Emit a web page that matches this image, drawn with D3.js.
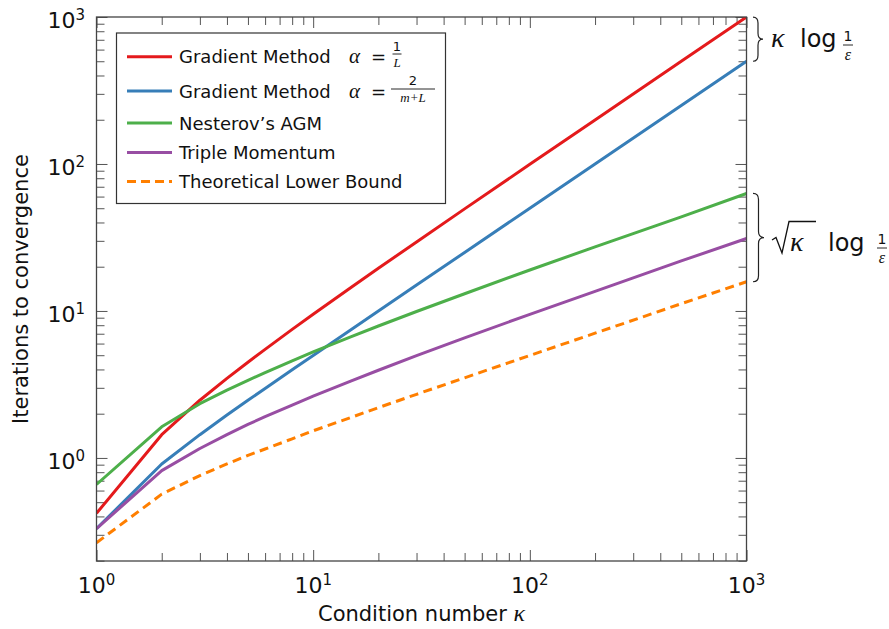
<!DOCTYPE html>
<html>
<head>
<meta charset="utf-8">
<script src="https://cdn.jsdelivr.net/npm/d3@7"></script>
<style>
  body { margin: 0; background: #fff; }
  svg { display: block; }
  text { font-family: "DejaVu Sans", sans-serif; fill: #111; }
  .math { font-family: "Liberation Serif", serif; font-style: italic; }
</style>
</head>
<body>
<div id="chart"></div>
<script>
// Data (condition number vs iterations)
const kappa = [1, 2, 3, 4, 5, 6, 8, 10, 15, 20, 30, 50, 100, 200, 500, 1000];
const gradOneOverL = [0.42, 1.44, 2.47, 3.48, 4.48, 5.48, 7.49, 9.49, 14.5, 19.5, 29.5, 49.5, 99.5, 199.5, 499.5, 999.5];
const gradTwoOverMpL = [0.33, 0.91, 1.44, 1.96, 2.47, 2.97, 3.98, 4.98, 7.49, 9.99, 15.0, 25.0, 50.0, 100, 250, 500];
const nesterovAGM = [0.66, 1.63, 2.34, 2.89, 3.37, 3.81, 4.58, 5.26, 6.70, 7.90, 9.92, 13.1, 19.0, 27.3, 43.7, 63.0];
const tripleMomentum = [0.33, 0.82, 1.16, 1.44, 1.69, 1.91, 2.29, 2.63, 3.35, 3.95, 4.96, 6.56, 9.49, 13.6, 21.9, 31.1];
const lowerBound = [0.265, 0.567, 0.759, 0.910, 1.04, 1.15, 1.35, 1.53, 1.89, 2.20, 2.71, 3.51, 4.98, 7.06, 11.2, 15.8];

const seriesNames = ["Gradient Method", "Gradient Method", "Nesterov\u2019s AGM", "Triple Momentum", "Theoretical Lower Bound"];
const seriesColors = ["#e41a1c", "#377eb8", "#4daf4a", "#984ea3", "#ff7f00"];
const seriesValues = [gradOneOverL, gradTwoOverMpL, nesterovAGM, tripleMomentum, lowerBound];

const xExponents = [0, 1, 2, 3];
const yExponents = [0, 1, 2, 3];

// Layout
const W = 889, H = 629;
const plot = {left: 96.5, right: 746.5, top: 17, bottom: 561};

const svg = d3.select("#chart").append("svg")
    .attr("width", W)
    .attr("height", H);

const x = d3.scaleLog().domain([1, 1000]).range([plot.left, plot.right]);
const y = d3.scaleLog().domain([0.199, 1000]).range([plot.bottom, plot.top]);

// minor ticks 2..9 per decade
const minorX = [];
[1, 10, 100].forEach(d => { for (let i = 2; i <= 9; i++) minorX.push(d * i); });
const minorY = [];
[0.1, 1, 10, 100].forEach(d => { for (let i = 2; i <= 9; i++) if (d * i >= 0.199) minorY.push(d * i); });
const majorX = xExponents.map(e => Math.pow(10, e));
const majorY = yExponents.map(e => Math.pow(10, e));

function tickAxis(axis, vals, size) {
    return axis.tickValues(vals).tickSize(-size).tickFormat("");
}

// ticks on all four sides, pointing inward
const axesG = svg.append("g").attr("class", "axes");
const axisDefs = [
    [() => d3.axisBottom(x), `translate(0,${plot.bottom})`, minorX, majorX],
    [() => d3.axisTop(x), `translate(0,${plot.top})`, minorX, majorX],
    [() => d3.axisLeft(y), `translate(${plot.left},0)`, minorY, majorY],
    [() => d3.axisRight(y), `translate(${plot.right},0)`, minorY, majorY]
];
axisDefs.forEach(([mk, tr, minor, major]) => {
    axesG.append("g").attr("transform", tr).call(tickAxis(mk(), minor, 8));
    axesG.append("g").attr("transform", tr).call(tickAxis(mk(), major, 11));
});
axesG.selectAll(".domain").remove();
axesG.selectAll("line").attr("stroke", "#555").attr("stroke-width", 1);

// Clip and lines
svg.append("clipPath").attr("id", "clip")
    .append("rect")
    .attr("x", plot.left).attr("y", plot.top)
    .attr("width", plot.right - plot.left).attr("height", plot.bottom - plot.top);

const line = d3.line()
    .x((d, i) => x(kappa[i]))
    .y(d => y(d));

svg.append("g").attr("clip-path", "url(#clip)")
    .selectAll("path")
    .data(seriesValues)
    .enter()
    .append("path")
    .attr("d", d => line(d))
    .attr("fill", "none")
    .attr("stroke", (d, i) => seriesColors[i])
    .attr("stroke-width", 3)
    .attr("stroke-linejoin", "round")
    .attr("stroke-dasharray", (d, i) => i === 4 ? "9,5.5" : null);

// Frame
svg.append("rect")
    .attr("x", plot.left).attr("y", plot.top)
    .attr("width", plot.right - plot.left).attr("height", plot.bottom - plot.top)
    .attr("fill", "none")
    .attr("stroke", "#444")
    .attr("stroke-width", 1.3);

// Tick labels
xExponents.forEach(e => {
    const t = svg.append("text")
        .attr("x", x(Math.pow(10, e)))
        .attr("y", 592.5)
        .attr("text-anchor", "middle")
        .style("font-size", "22px");
    t.append("tspan").text("10");
    t.append("tspan").attr("dy", -8).style("font-size", "15px").text(e);
});
yExponents.forEach(e => {
    const t = svg.append("text")
        .attr("x", 85)
        .attr("y", y(Math.pow(10, e)) + 11)
        .attr("text-anchor", "end")
        .style("font-size", "22px");
    t.append("tspan").text("10");
    t.append("tspan").attr("dy", -8).style("font-size", "15px").text(e);
});

// Axis labels
const xl = svg.append("text")
    .attr("x", (plot.left + plot.right) / 2)
    .attr("y", 621)
    .attr("text-anchor", "middle")
    .style("font-size", "21px");
xl.append("tspan").text("Condition number ");
xl.append("tspan").attr("class", "math").style("font-size", "24px").text("\u03ba");

svg.append("text")
    .attr("transform", `translate(28,${(plot.top + plot.bottom) / 2}) rotate(-90)`)
    .attr("text-anchor", "middle")
    .style("font-size", "21px")
    .text("Iterations to convergence");

// Legend
const legend = svg.append("g");
legend.append("rect")
    .attr("x", 116.5).attr("y", 33)
    .attr("width", 329).attr("height", 170.5)
    .attr("fill", "#fff")
    .attr("stroke", "#333")
    .attr("stroke-width", 1.2);

const lineY = [56.7, 91, 123, 152.5, 181.5];
const textY = [63, 97.5, 129.5, 159, 188];
seriesNames.forEach((name, i) => {
    legend.append("line")
        .attr("x1", 127).attr("x2", 172)
        .attr("y1", lineY[i]).attr("y2", lineY[i])
        .attr("stroke", seriesColors[i])
        .attr("stroke-width", 3)
        .attr("stroke-dasharray", i === 4 ? "9,5" : null);
    legend.append("text")
        .attr("x", 179).attr("y", textY[i])
        .style("font-size", "18px")
        .text(name);
});

// small stacked fraction
function fracText(g, cx, numY, barY, denY, num, den, size, denSize, w) {
    g.append("text").attr("x", cx).attr("y", numY).attr("text-anchor", "middle")
        .style("font-size", size + "px").text(num);
    g.append("line").attr("x1", cx - w / 2).attr("x2", cx + w / 2)
        .attr("y1", barY).attr("y2", barY)
        .attr("stroke", "#111").attr("stroke-width", 0.9);
    g.append("text").attr("x", cx).attr("y", denY).attr("text-anchor", "middle")
        .attr("class", "math")
        .style("font-size", denSize + "px").text(den);
}
[0, 1].forEach(i => {
    legend.append("text").attr("class", "math")
        .attr("x", 349).attr("y", textY[i])
        .style("font-size", "21px").text("\u03b1");
    legend.append("text")
        .attr("x", 371).attr("y", textY[i])
        .style("font-size", "18px").text("=");
});
fracText(legend, 397, 50.5, 54, 66.5, "1", "L", 13, 13, 9);
fracText(legend, 413, 85, 89, 102, "2", "m+L", 13, 13, 44);

// Braces and complexity annotations
function brace(xb, y1, y2, w) {
    const m = (y1 + y2) / 2, h = w / 2, q = 6;
    return `M${xb},${y1} Q${xb + h},${y1} ${xb + h},${y1 + q} L${xb + h},${m - q} ` +
        `Q${xb + h},${m} ${xb + w},${m} Q${xb + h},${m} ${xb + h},${m + q} ` +
        `L${xb + h},${y2 - q} Q${xb + h},${y2} ${xb},${y2}`;
}
const ann = svg.append("g");
ann.append("path").attr("d", brace(753, y(gradOneOverL[15]), y(gradTwoOverMpL[15]), 10))
    .attr("fill", "none").attr("stroke", "#222").attr("stroke-width", 1.2);
ann.append("path").attr("d", brace(753, y(nesterovAGM[15]), y(lowerBound[15]), 11))
    .attr("fill", "none").attr("stroke", "#222").attr("stroke-width", 1.2);

// kappa log 1/eps
ann.append("text").attr("class", "math").attr("x", 771).attr("y", 47)
    .style("font-size", "28px").text("\u03ba");
ann.append("text").attr("x", 800).attr("y", 47)
    .style("font-size", "24px").text("log");
fracText(ann, 848, 40.5, 45, 60, "1", "\u03b5", 14, 16, 10);

// sqrt(kappa) log 1/eps
ann.append("path")
    .attr("d", "M772,240 L776,237.5 L782,253 L789,221.5 L816,221.5")
    .attr("fill", "none").attr("stroke", "#111").attr("stroke-width", 1.3);
ann.append("text").attr("class", "math").attr("x", 790).attr("y", 251)
    .style("font-size", "28px").text("\u03ba");
ann.append("text").attr("x", 828).attr("y", 251)
    .style("font-size", "24px").text("log");
fracText(ann, 882, 243.5, 248, 263, "1", "\u03b5", 14, 16, 10);
</script>
</body>
</html>
